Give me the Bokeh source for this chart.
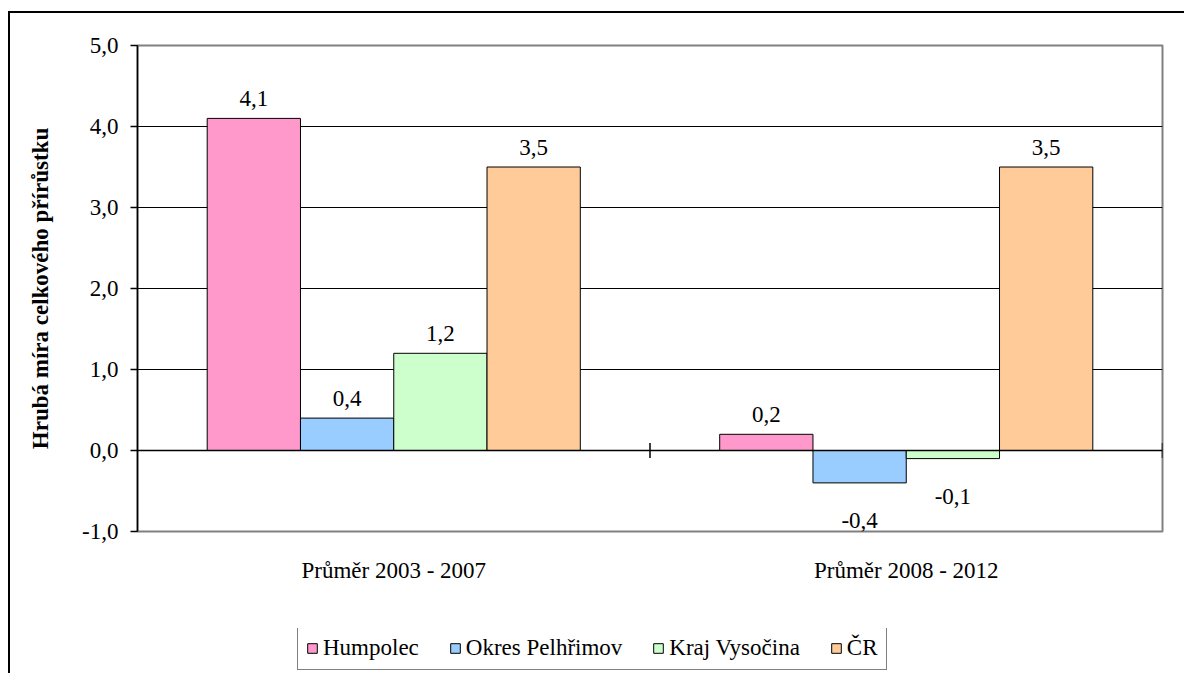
import math
from bokeh.plotting import figure
from bokeh.layouts import column
from bokeh.models import (ColumnDataSource, FactorRange, FixedTicker, CustomJSTickFormatter,
                          Span, Legend, LegendItem, Range1d)
from bokeh.transform import dodge
from bokeh.core.properties import value
from bokeh.embed import file_html
from bokeh.resources import INLINE

# ---- data ----
periods = ["Průměr 2003 - 2007", "Průměr 2008 - 2012"]
series = ["Humpolec", "Okres Pelhřimov", "Kraj Vysočina", "ČR"]
humpolec = [4.1, 0.2]
okres_pelhrimov = [0.4, -0.4]
kraj_vysocina = [1.2, -0.1]
cr = [3.5, 3.5]
y_ticks = [-1, 0, 1, 2, 3, 4, 5]
y_title = "Hrubá míra celkového přírůstku"

values = [humpolec, okres_pelhrimov, kraj_vysocina, cr]
colors = ["#FF99CC", "#99CCFF", "#CCFFCC", "#FFCC99"]
FONT = "Liberation Serif"

p = figure(x_range=FactorRange(*periods, range_padding=0), y_range=(y_ticks[0], y_ticks[-1]),
           width=1176, height=617, output_backend="svg", toolbar_location=None,
           min_border_left=127, min_border_right=24, min_border_top=32, min_border_bottom=99)
p.styles = {"border-left": "2px solid black", "border-top": "2px solid black",
            "margin-top": "11px", "margin-left": "8px"}

p.outline_line_color = "#808080"
p.outline_line_width = 2
p.xgrid.grid_line_color = None
p.ygrid.ticker = FixedTicker(ticks=[t for t in y_ticks if 0 < t < y_ticks[-1]])
p.ygrid.grid_line_color = "black"
p.ygrid.grid_line_width = 1

w = 0.182
for i, (name, vals, col) in enumerate(zip(series, values, colors)):
    src = ColumnDataSource(dict(
        period=periods, val=vals,
        lbl=[f"{v:.1f}".replace(".", ",") for v in vals],
        off=[-20 if v >= 0 else 38 for v in vals],
    ))
    xd = dodge("period", (i - (len(series) - 1) / 2) * w, range=p.x_range)
    p.vbar(x=xd, top="val", bottom=0, width=w, source=src,
           fill_color=col, line_color="black", line_width=1)
    p.text(x=xd, y="val", text="lbl", source=src, y_offset="off",
           text_align="center", text_baseline="middle",
           text_font=value(FONT), text_font_size="23px", text_color="black")

# zero line with category boundary ticks
p.add_layout(Span(location=0, dimension="width", line_color="black", line_width=1.5))
p.scatter(x=[float(k) for k in range(1, len(periods) + 1)], y=[0] * len(periods),
          marker="dash", angle=math.pi / 2, size=15, line_color="black", line_width=1.5)

# y axis
ya = p.yaxis[0]
ya.ticker = FixedTicker(ticks=y_ticks)
ya.formatter = CustomJSTickFormatter(code="return tick.toFixed(1).replace('.', ',')")
ya.major_label_text_font = FONT
ya.major_label_text_font_size = "23px"
ya.major_label_text_color = "black"
ya.major_tick_out = 7
ya.major_tick_in = 0
ya.major_tick_line_color = "black"
ya.major_tick_line_width = 1.5
ya.minor_tick_line_color = None
ya.axis_line_color = "black"
ya.axis_line_width = 1.5
ya.major_label_standoff = 12
ya.axis_label = y_title
ya.axis_label_text_font = FONT
ya.axis_label_text_font_style = "bold"
ya.axis_label_text_font_size = "23px"
ya.axis_label_text_color = "black"
ya.axis_label_standoff = 26

# x axis
xa = p.xaxis[0]
xa.axis_line_color = None
xa.major_tick_line_color = None
xa.minor_tick_line_color = None
xa.major_label_text_font = FONT
xa.major_label_text_font_size = "23px"
xa.major_label_text_color = "black"
xa.major_label_standoff = 20

# legend strip (separate figure so the legend is not clipped)
q = figure(width=1176, height=45, output_backend="svg", toolbar_location=None,
           x_range=Range1d(0, 1), y_range=Range1d(0, 1),
           min_border_left=0, min_border_right=0, min_border_top=0, min_border_bottom=0)
q.styles = {"border-left": "2px solid black", "margin-left": "8px"}
q.axis.visible = False
q.grid.visible = False
q.outline_line_color = None
items = []
for name, col in zip(series, colors):
    # swatch-only renderer, placed outside the visible range
    r = q.vbar(x=[2], top=[0], width=0.1, fill_color=col, line_color="black", line_width=1)
    items.append(LegendItem(label=name, renderers=[r]))
legend = Legend(items=items, orientation="horizontal", location=(160, 3),
                label_text_font=FONT, label_text_font_size="23px", label_text_color="black",
                glyph_width=12, glyph_height=12, label_standoff=5, spacing=30,
                padding=8, margin=0, border_line_color="black", border_line_width=1,
                background_fill_color="white", background_fill_alpha=1)
q.add_layout(legend, "center")

layout = column(p, q, spacing=0)
open("out.html", "w").write(file_html(layout, INLINE))
